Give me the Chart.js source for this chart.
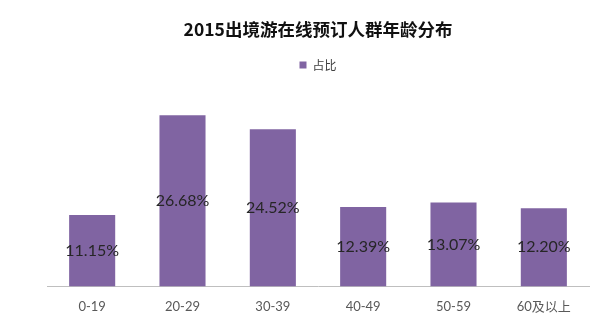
<!DOCTYPE html>
<html>
<head>
<meta charset="utf-8">
<script src="https://cdn.jsdelivr.net/npm/chart.js@4/dist/chart.umd.min.js"></script>
<style>
  html, body { margin: 0; padding: 0; background: #ffffff; }
  #wrap { width: 600px; height: 333px; position: relative; }
</style>
</head>
<body>
<div id="wrap"><canvas id="c"></canvas></div>
<script>
// Age groups of online outbound-travel bookers, 2015
const categories = ['0-19', '20-29', '30-39', '40-49', '50-59', '60及以上'];
// Share of bookers per age group (%)
const shares = [11.15, 26.68, 24.52, 12.39, 13.07, 12.20];
const seriesName = '占比';
const chartTitle = '2015出境游在线预订人群年龄分布';

const BAR_COLOR = '#8064A2';
const CJK = '"Noto Sans CJK SC", "Noto Sans CJK JP", sans-serif';
const LATIN = 'Lato, "Noto Sans CJK SC", sans-serif';

// Writes each bar's value in the middle of the bar
const valueLabels = {
  id: 'valueLabels',
  afterDatasetsDraw(chart) {
    const ctx = chart.ctx;
    const meta = chart.getDatasetMeta(0);
    ctx.save();
    ctx.font = '16px ' + LATIN;
    ctx.fillStyle = '#262626';
    ctx.textAlign = 'center';
    ctx.textBaseline = 'middle';
    meta.data.forEach((bar, i) => {
      const v = chart.data.datasets[0].data[i];
      const y = (bar.y + bar.base) / 2;
      ctx.fillText(v.toFixed(2) + '%', bar.x, y);
    });
    ctx.restore();
  }
};

// Extra room between the legend and the plot
const legendGap = {
  id: 'legendGap',
  beforeInit(chart) {
    const fit = chart.legend.fit;
    chart.legend.fit = function () {
      fit.bind(chart.legend)();
      this.height += 13;
    };
  }
};

new Chart(document.getElementById('c'), {
  type: 'bar',
  data: {
    labels: categories,
    datasets: [{
      label: seriesName,
      data: shares,
      backgroundColor: BAR_COLOR,
      borderWidth: 0,
      categoryPercentage: 1.0,
      barPercentage: 0.51
    }]
  },
  options: {
    responsive: true,
    maintainAspectRatio: false,
    animation: false,
    layout: { padding: { left: 47, right: 11, top: 0, bottom: 13 } },
    plugins: {
      title: {
        display: true,
        text: chartTitle,
        color: '#111111',
        font: { family: CJK, size: 17.5, weight: 'bold' },
        padding: { top: 19, bottom: 13 }
      },
      legend: {
        display: true,
        position: 'top',
        labels: {
          boxWidth: 7,
          boxHeight: 7,
          color: '#404040',
          font: { family: CJK, size: 12 },
          padding: 6
        }
      },
      tooltip: { enabled: false }
    },
    scales: {
      x: {
        grid: { display: false },
        border: { display: true, color: '#bfbfbf', width: 1 },
        ticks: {
          color: '#595959',
          font: { family: LATIN, size: 13 },
          padding: 5,
          maxRotation: 0
        }
      },
      y: {
        display: false,
        min: 0,
        max: 30
      }
    }
  },
  plugins: [valueLabels, legendGap]
});
</script>
</body>
</html>
